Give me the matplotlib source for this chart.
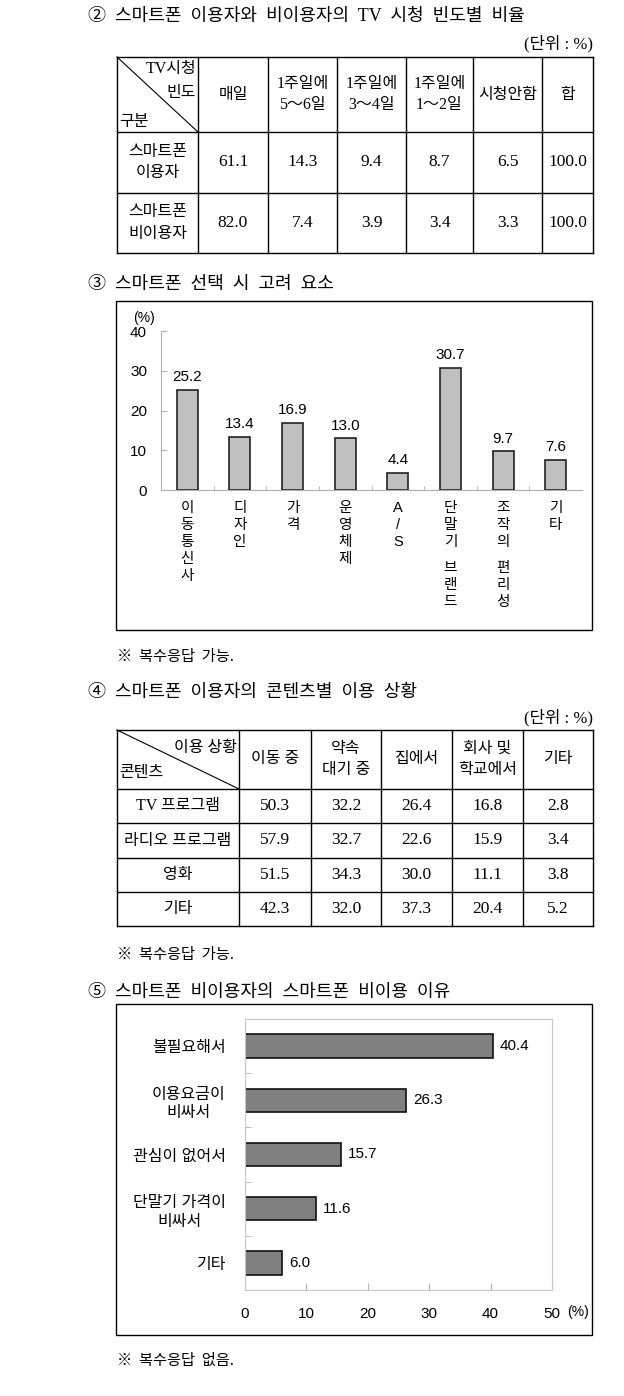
# -*- coding: utf-8 -*-
"""Smartphone survey page: two tables + two bar charts, redrawn on one figure."""
import numpy as np
import matplotlib
matplotlib.use('Agg')
import matplotlib.pyplot as plt
from matplotlib.patches import Rectangle

plt.rcParams['font.family'] = ['Liberation Sans', 'Noto Sans CJK KR', 'DejaVu Sans']
SERIF = ['Liberation Serif', 'Noto Sans CJK KR', 'DejaVu Sans']
KR = ['Noto Sans CJK KR', 'DejaVu Sans']

# ---- data -------------------------------------------------------------
t1_cols = ['매일', '1주일에\n5～6일', '1주일에\n3～4일', '1주일에\n1～2일', '시청안함', '합']
t1_rows = ['스마트폰\n이용자', '스마트폰\n비이용자']
t1_vals = [[61.1, 14.3, 9.4, 8.7, 6.5, 100.0],
           [82.0, 7.4, 3.9, 3.4, 3.3, 100.0]]

factor_labels = ['이동통신사', '디자인', '가격', '운영체제', 'A/S', '단말기 브랜드', '조작의 편리성', '기타']
factor_vals = [25.2, 13.4, 16.9, 13.0, 4.4, 30.7, 9.7, 7.6]

t2_cols = ['이동 중', '약속\n대기 중', '집에서', '회사 및\n학교에서', '기타']
t2_rows = ['TV 프로그램', '라디오 프로그램', '영화', '기타']
t2_vals = [[50.3, 32.2, 26.4, 16.8, 2.8],
           [57.9, 32.7, 22.6, 15.9, 3.4],
           [51.5, 34.3, 30.0, 11.1, 3.8],
           [42.3, 32.0, 37.3, 20.4, 5.2]]

reason_labels = ['불필요해서', '이용요금이\n비싸서', '관심이 없어서', '단말기 가격이\n비싸서', '기타']
reason_vals = [40.4, 26.3, 15.7, 11.6, 6.0]

# ---- canvas -------------------------------------------------------------
W, H = 624, 1396
fig = plt.figure(figsize=(W / 100, H / 100), dpi=100)
bg = fig.add_axes([0, 0, 1, 1])
bg.set_xlim(0, W); bg.set_ylim(H, 0); bg.axis('off')


def px_axes(left, top, right, bottom):
    return fig.add_axes([left / W, 1 - bottom / H, (right - left) / W, (bottom - top) / H])


def grid_table(xs, ys):
    for x in xs:
        bg.plot([x, x], [ys[0], ys[-1]], color='k', lw=1)
    for y in ys:
        bg.plot([xs[0], xs[-1]], [y, y], color='k', lw=1)
    bg.plot([xs[0], xs[1]], [ys[0], ys[1]], color='k', lw=0.8)


def cell_text(x0, x1, y0, y1, s, size=11.5):
    bg.text((x0 + x1) / 2, (y0 + y1) / 2, s, ha='center', va='center',
            multialignment='center', fontsize=size, family=SERIF, linespacing=1.45)


def title(y, s):
    bg.text(88, y, s, fontsize=13, family=SERIF, va='center')


# ---- ② table ----------------------------------------------------------------
title(16, '②  스마트폰  이용자와  비이용자의  TV  시청  빈도별  비율')
bg.text(593, 44, '(단위 : %)', fontsize=12, family=SERIF, ha='right', va='center')
xs1 = [117, 198, 268, 337, 406, 473, 542, 593]
ys1 = [57, 132, 193, 253]
grid_table(xs1, ys1)
bg.text(196, 69, 'TV시청', fontsize=11.5, family=SERIF, ha='right', va='center')
bg.text(196, 93, '빈도', fontsize=11.5, family=SERIF, ha='right', va='center')
bg.text(119, 122, '구분', fontsize=11.5, family=SERIF, ha='left', va='center')
for j, c in enumerate(t1_cols):
    cell_text(xs1[j + 1], xs1[j + 2], ys1[0], ys1[1], c)
for i, r in enumerate(t1_rows):
    cell_text(xs1[0], xs1[1], ys1[i + 1], ys1[i + 2], r)
    for j, v in enumerate(t1_vals[i]):
        cell_text(xs1[j + 1], xs1[j + 2], ys1[i + 1], ys1[i + 2], f'{v:.1f}', size=12.5)

# ---- ③ vertical bar chart ---------------------------------------------------
title(285, '③  스마트폰  선택  시  고려  요소')
bg.add_patch(Rectangle((116, 301), 476, 329, fill=False, ec='k', lw=1))
ax = px_axes(161, 331, 582, 490)
x = np.arange(len(factor_vals))
ax.bar(x, factor_vals, width=0.4, color='#c0c0c0', edgecolor='#222222', lw=1.2)
ax.set_xlim(-0.5, len(factor_vals) - 0.5)
ax.set_ylim(0, 40)
ax.set_yticks([0, 10, 20, 30, 40])
ax.set_xticks(x[:-1] + 0.5, minor=True)
ax.set_xticks([])
ax.tick_params(axis='y', direction='in', length=4, color='#b0b0b0', labelsize=11, pad=10)
ax.tick_params(axis='x', which='minor', direction='in', length=3, color='#b0b0b0')
for s in ['top', 'right']:
    ax.spines[s].set_visible(False)
for s in ['left', 'bottom']:
    ax.spines[s].set_color('#b0b0b0')
ax.patch.set_alpha(0)
ax.text(-0.82, 41.5, '(%)', fontsize=10, ha='center', va='bottom')
for i, v in enumerate(factor_vals):
    ax.annotate(f'{v:.1f}', (i, v), xytext=(0, 4), textcoords='offset points',
                ha='center', va='bottom', fontsize=11)
    off = 13
    for w in factor_labels[i].split(' '):
        for ch in w:
            ax.annotate(ch, (i, 0), xytext=(0, -off), textcoords='offset points',
                        ha='center', va='center', fontsize=10.5, annotation_clip=False)
            off += 12.3
        off += 6
bg.text(117, 657, '※  복수응답  가능.', fontsize=11, family=KR, va='center')

# ---- ④ table ----------------------------------------------------------------
title(693, '④  스마트폰  이용자의  콘텐츠별  이용  상황')
bg.text(593, 718, '(단위 : %)', fontsize=12, family=SERIF, ha='right', va='center')
xs2 = [117, 239, 311, 381, 452, 523, 593]
ys2 = [730, 789, 823, 858, 892, 926]
grid_table(xs2, ys2)
bg.text(237, 748, '이용 상황', fontsize=11.5, family=SERIF, ha='right', va='center')
bg.text(119, 773, '콘텐츠', fontsize=11.5, family=SERIF, ha='left', va='center')
for j, c in enumerate(t2_cols):
    cell_text(xs2[j + 1], xs2[j + 2], ys2[0], ys2[1], c)
for i, r in enumerate(t2_rows):
    cell_text(xs2[0], xs2[1], ys2[i + 1], ys2[i + 2], r)
    for j, v in enumerate(t2_vals[i]):
        cell_text(xs2[j + 1], xs2[j + 2], ys2[i + 1], ys2[i + 2], f'{v:.1f}', size=12.5)
bg.text(117, 955, '※  복수응답  가능.', fontsize=11, family=KR, va='center')

# ---- ⑤ horizontal bar chart -------------------------------------------------
title(992, '⑤  스마트폰  비이용자의  스마트폰  비이용  이유')
bg.add_patch(Rectangle((116, 1004), 476, 331, fill=False, ec='k', lw=1))
ax2 = px_axes(245, 1019, 552, 1290)
y = np.arange(len(reason_vals))
ax2.barh(y, reason_vals, height=0.43, color='#808080', edgecolor='#111111', lw=1.2)
ax2.set_ylim(len(reason_vals) - 0.5, -0.5)
ax2.set_xlim(0, 50)
ax2.set_xticks([0, 10, 20, 30, 40, 50])
ax2.set_yticks(y)
ax2.set_yticklabels(reason_labels, multialignment='center', fontsize=11.5, linespacing=1.3)
ax2.set_yticks(y[:-1] + 0.5, minor=True)
ax2.tick_params(axis='y', which='major', length=0, pad=14)
ax2.tick_params(axis='y', which='minor', direction='in', length=4, color='#b0b0b0')
ax2.tick_params(axis='x', direction='in', length=5, color='#b0b0b0', labelsize=11, pad=12)
for s in ax2.spines.values():
    s.set_color('#c8c8c8')
ax2.patch.set_alpha(0)
ax2.text(54.2, -0.08, '(%)', transform=ax2.get_xaxis_transform(), fontsize=10,
         ha='center', va='center')
for i, v in enumerate(reason_vals):
    ax2.annotate(f'{v:.1f}', (v, i), xytext=(5, 0), textcoords='offset points',
                 ha='left', va='center', fontsize=11)
bg.text(117, 1360, '※  복수응답  없음.', fontsize=11, family=KR, va='center')

fig.savefig('out.png', dpi=100)
plt.close(fig)
print('saved out.png')
